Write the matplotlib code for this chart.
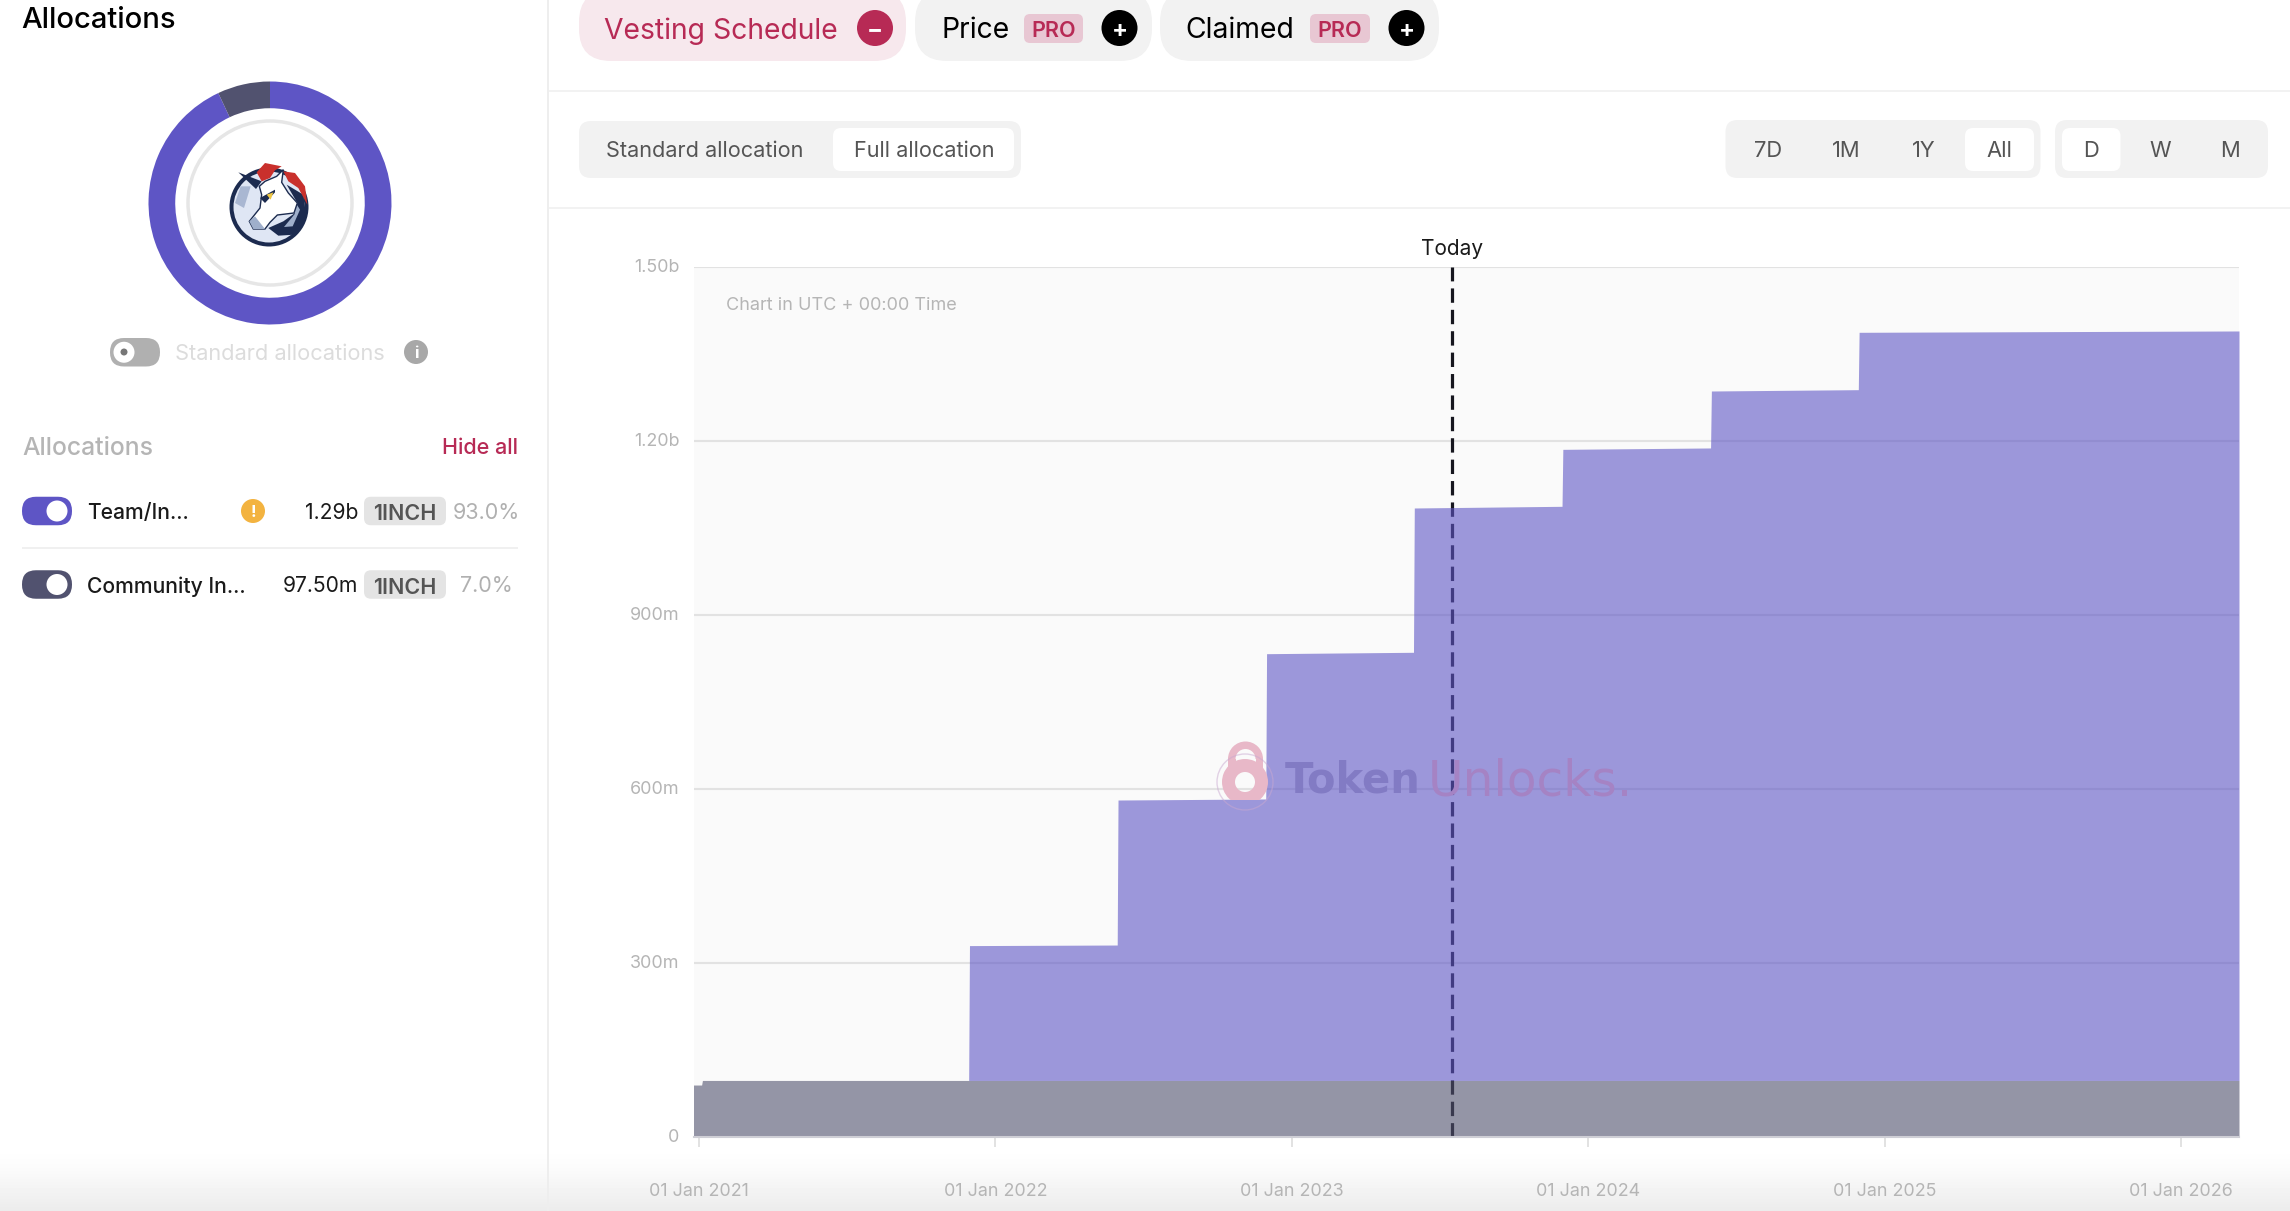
import numpy as np
import pandas as pd
import matplotlib
matplotlib.use("Agg")
import matplotlib.pyplot as plt
import matplotlib.dates as mdates
from matplotlib.patches import Circle, FancyBboxPatch, Wedge, Rectangle, Polygon

plt.rcParams["font.family"] = ["Inter", "DejaVu Sans"]
plt.rcParams["ytick.alignment"] = "center"

W, H = 2290, 1211
ROSE = "#b72a55"
TEAM = "#5e55c5"
COMMUNITY = "#51526f"
NAVY = "#1c2b4f"

# stacked areas, in millions of tokens; the days before a jump hold the old level
dates = ["2020-12-25", "2021-01-04", "2021-01-05", "2021-11-29", "2021-11-30", "2022-05-31", "2022-06-01",
         "2022-11-30", "2022-12-01", "2023-05-31", "2023-06-01", "2023-11-30", "2023-12-01",
         "2024-05-31", "2024-06-01", "2024-11-29", "2024-11-30", "2026-03-13"]
community = [89.6, 89.6, 97.5, 97.5, 97.5, 97.5, 97.5, 97.5, 97.5, 97.5, 97.5, 97.5, 97.5,
             97.5, 97.5, 97.5, 97.5, 97.5]
team = [0, 0, 0, 0, 232.5, 233.5, 483.5, 485.3, 735.8, 738.2, 987, 989.9, 1088.1, 1090.5,
        1188.7, 1191, 1289.9, 1292.2]

y_ticks = [0, 300, 600, 900, 1200, 1500]
y_labels = ["0", "300m", "600m", "900m", "1.20b", "1.50b"]
today = "2023-07-18"

donut_labels = ["Team/In...", "Community In..."]
donut_share = [93.0, 7.0]
donut_amount = ["1.29b", "97.50m"]

range_buttons = ["7D", "1M", "1Y", "All"]
range_x = [1767.6, 1846, 1923.5, 1999]
step_buttons = ["D", "W", "M"]
step_x = [2091, 2160, 2229.6]


def px_axes(x0, y0, x1, y1, **kw):
    return fig.add_axes([x0 / W, 1 - y1 / H, (x1 - x0) / W, (y1 - y0) / H], **kw)


def box(x0, y0, x1, y1, r, color, zorder=2):
    ui.add_patch(FancyBboxPatch((x0 + r, y0 + r), x1 - x0 - 2 * r, y1 - y0 - 2 * r,
                                boxstyle=f"round,pad={r}", fc=color, ec="none", zorder=zorder))


def txt(x, y, s, size, color="#1a1a1a", ha="left", weight="normal", zorder=5):
    ui.text(x, y, s, fontsize=size, color=color, ha=ha, va="center_baseline", fontweight=weight, zorder=zorder)


def toggle(x0, y0, color, knob_x):
    box(x0, y0, x0 + 50, y0 + 28.5, 14, color)
    ui.add_patch(Circle((knob_x, y0 + 14.25), 10.5, fc="white", ec="none", zorder=3))


def logo_poly(pts, color, zorder=4, ec="none"):
    ui.add_patch(Polygon([(220 + x / 3, 153 + y / 3) for x, y in pts], fc=color, ec=ec, lw=1, zorder=zorder))


fig = plt.figure(figsize=(W / 100, H / 100), dpi=100, facecolor="white")

# page layer in pixel coordinates
ui = px_axes(0, 0, W, H)
ui.set_xlim(0, W); ui.set_ylim(H, 0); ui.axis("off")
ui.imshow(np.interp(np.linspace(0, 1, 62), [0, 0.3, 1], [1.0, 0.985, 0.925])[:, None],
          extent=(0, W, H, 1149), cmap="gray", vmin=0, vmax=1, aspect="auto", zorder=0)
ui.set_xlim(0, W); ui.set_ylim(H, 0)

ui.add_patch(Rectangle((547, 0), 2, H, fc="#eeeeee", ec="none", zorder=1))
for y in (90, 206.5):
    ui.add_patch(Rectangle((549, y), W, 2, fc="#f2f2f2", ec="none", zorder=1))

# left panel
txt(21, 18, "Allocations", 21, color="black", weight="medium")
toggle(110, 338, "#b0b0b0", 124)
ui.add_patch(Circle((124, 352), 3.5, fc="#777777", ec="none", zorder=4))
txt(175, 352, "Standard allocations", 15.7, color="#dcdcdc")
ui.add_patch(Circle((416, 352), 12, fc="#a8a8a8", ec="none", zorder=3))
txt(416, 352, "i", 12, color="white", ha="center", weight="bold")

txt(22, 446, "Allocations", 17.8, color="#b5b5b5", weight="medium")
txt(518, 446, "Hide all", 15.5, color=ROSE, ha="right", weight="medium")

for y, name, share, amount, col in zip([511, 584.5], donut_labels, donut_share, donut_amount, [TEAM, COMMUNITY]):
    toggle(22, y - 14.25, col, 57)
    txt(87, y, name, 15.2, weight="medium")
    txt(358, y, amount, 15.2, ha="right")
    box(364, y - 14.25, 446, y + 14.25, 7, "#e4e4e4")
    txt(405, y + 1, "1INCH", 15.5, color="#555555", ha="center", weight="semibold")
    txt(486, y, f"{share:.1f}%", 15.5, color="#b0b0b0", ha="center")
ui.add_patch(Rectangle((22, 547), 496, 2, fc="#f0f0f0", ec="none", zorder=1))
ui.add_patch(Circle((253, 511), 12, fc="#f3b340", ec="none", zorder=3))
txt(253, 511, "!", 12, color="white", ha="center", weight="bold")

# donut
dn = px_axes(270 - 121.5, 203 - 121.5, 270 + 121.5, 203 + 121.5)
dn.pie(donut_share, colors=[TEAM, COMMUNITY], startangle=90, counterclock=False, radius=1,
       wedgeprops={"width": 0.22, "linewidth": 0})
dn.set_xlim(-1, 1); dn.set_ylim(-1, 1); dn.patch.set_alpha(0)

# centre logo, drawn roughly
ui.add_patch(Circle((270, 203), 82, fc="none", ec="#e6e6e6", lw=2.5, zorder=3))
ui.add_patch(Circle((269, 207), 39.5, fc=NAVY, ec="none", zorder=3))
ui.add_patch(Circle((269, 207), 35.5, fc="#dfe6f4", ec="none", zorder=3))
logo_poly([(45, 150), (62, 100), (92, 100), (72, 165)], "#a9b7d2")
logo_poly([(200, 95), (250, 125), (258, 185), (225, 245), (175, 248), (145, 225), (190, 205), (225, 180), (232, 150)], NAVY)
logo_poly([(215, 130), (240, 170), (218, 220), (192, 222), (225, 182)], "#9fafcb", zorder=4.5)
logo_poly([(118, 100), (135, 85), (170, 70), (190, 50), (185, 88), (205, 120), (232, 150), (222, 180), (172, 186),
           (150, 208), (135, 228), (100, 228), (88, 205), (120, 165), (125, 125)], "white", zorder=5, ec=NAVY)
logo_poly([(55, 58), (125, 85), (108, 108)], NAVY, zorder=5.5)
logo_poly([(110, 58), (135, 30), (185, 40), (165, 52), (150, 75), (125, 85)], "#c9302c", zorder=5.5)
logo_poly([(190, 55), (225, 60), (255, 100), (262, 155), (235, 105), (205, 85)], "#c9302c", zorder=5.5)
logo_poly([(140, 125), (160, 118), (152, 140)], "#eec643", zorder=6)
logo_poly([(120, 135), (165, 110), (165, 118), (135, 150)], NAVY, zorder=5.6)
logo_poly([(88, 205), (105, 190), (135, 228), (100, 228)], "#9fafcb", zorder=5.6)

# header pills
for x0, x1, col in [(579, 906, "#f7e8ed"), (915, 1152, "#f2f2f2"), (1160, 1439, "#f2f2f2")]:
    box(x0, -10, x1, 61, 32, col)
txt(604, 28, "Vesting Schedule", 20.4, color=ROSE)
txt(941, 28, "Price", 20.4, color="black")
txt(1185, 28, "Claimed", 20.4, color="black")
for x0, x1 in [(1024, 1083), (1310, 1370)]:
    box(x0, 14, x1, 43, 6, "#e8c7d3")
    txt((x0 + x1) / 2, 29, "PRO", 15.5, color=ROSE, ha="center", weight="semibold")
for cx, col, sign in [(875, ROSE, "\u2212"), (1119.5, "black", "+"), (1406.5, "black", "+")]:
    ui.add_patch(Circle((cx, 28), 18, fc=col, ec="none", zorder=3))
    txt(cx, 28, sign, 17, color="white", ha="center", weight="bold")

# segmented controls
box(579, 121, 1021, 178, 12, "#f2f2f2")
box(833, 128, 1014, 171, 8, "white", zorder=3)
txt(705, 149, "Standard allocation", 15.6, color="#555555", ha="center")
txt(924, 149, "Full allocation", 15.6, color="#555555", ha="center")

box(1725.5, 120, 2040.5, 178, 12, "#f2f2f2")
box(1965, 128, 2034, 171, 8, "white", zorder=3)
for x, s in zip(range_x, range_buttons):
    txt(x, 149, s, 15.8, color="#555555", ha="center")
box(2055, 120, 2268, 178, 12, "#f2f2f2")
box(2062, 128, 2120.5, 171, 8, "white", zorder=3)
for x, s in zip(step_x, step_buttons):
    txt(x, 149, s, 15.8, color="#555555", ha="center")

# the chart
d = pd.to_datetime(dates)
comm = np.array(community, dtype=float)
tm = np.array(team, dtype=float)

ax = px_axes(693.5, 267, 2239, 1137, facecolor="#fafafa", zorder=2)
ax.set_axisbelow(True)
ax.grid(axis="y", color="#e2e2e2", lw=1.5)
ax.axvline(pd.Timestamp(today), color="#16161e", lw=2.3, dashes=(4.5, 2.2), zorder=1.5)
ax.fill_between(d, 0, comm, color=COMMUNITY, alpha=0.6, lw=0, zorder=2)
ax.fill_between(d, comm, comm + tm, color=TEAM, alpha=0.6, lw=0, zorder=2)
ax.set_xlim(d[0], d[-1])
ax.set_ylim(0, 1500)
ax.set_yticks(y_ticks, y_labels)
ax.xaxis.set_major_locator(mdates.YearLocator())
ax.xaxis.set_major_formatter(mdates.DateFormatter("%d %b %Y"))
ax.tick_params(axis="y", length=0, pad=10, labelsize=12.9, labelcolor="#b5b5b5")
ax.tick_params(axis="x", length=7, width=1.2, color="#dddddd", pad=26, labelsize=12.9, labelcolor="#b5b5b5")
for side in ("top", "left", "right"):
    ax.spines[side].set_visible(False)
ax.spines["bottom"].set_color("#cfcfd6")
ax.spines["bottom"].set_linewidth(1.5)

ax.text(726, 304, "Chart in UTC + 00:00 Time", transform=ui.transData, fontsize=13, color="#b5b5b5",
        va="center_baseline", zorder=6)
ax.text(1452, 247, "Today", transform=ui.transData, fontsize=15, color="#1a1a1a", ha="center",
        va="center_baseline", clip_on=False, zorder=6)

# watermark
ax.text(1285, 776, "Token", transform=ui.transData, fontsize=30, color="#827bc4", fontweight="bold",
        family="DejaVu Sans", va="center_baseline", zorder=6)
ax.text(1428, 776, "Unlocks.", transform=ui.transData, fontsize=35, color="#a583c4",
        family="DejaVu Sans", va="center_baseline", zorder=6)
lock_clip = Rectangle((1200, 730), 110, 70, transform=ui.transData)
lock_parts = [Wedge((1245.5, 759), 17.5, 180, 360, width=7.5), Rectangle((1228, 759), 7.5, 10),
              Rectangle((1255.5, 759), 7.5, 10), Wedge((1245, 782), 23, 0, 360, width=13)]
for patch in lock_parts:
    patch.set(transform=ui.transData, fc="#e8b8c8", ec="none", zorder=6)
    ax.add_patch(patch)
    patch.set_clip_path(lock_clip)
halo = Circle((1245, 782), 28, transform=ui.transData, fc="none", ec="#c9a8d0", lw=1, alpha=0.5, zorder=6)
ax.add_patch(halo)

fig.savefig("out.png", dpi=100)
